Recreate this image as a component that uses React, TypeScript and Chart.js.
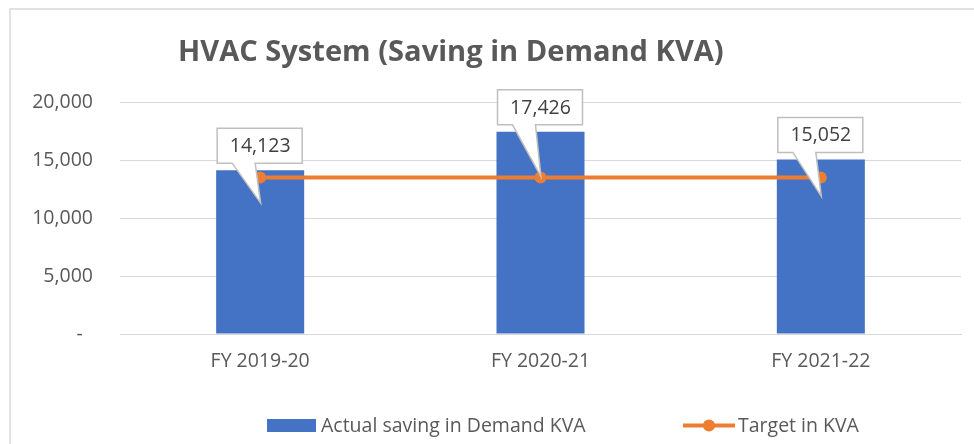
import React, { useEffect, useRef } from "react";
import { Chart, registerables } from "chart.js";

Chart.register(...registerables);

const TITLE = "HVAC System (Saving in Demand KVA)";
const categories = ["FY 2019-20", "FY 2020-21", "FY 2021-22"];
const actualSaving = [14123, 17426, 15052];
const targetKVA = [13500, 13500, 13500];
const seriesNames = ["Actual saving in Demand KVA", "Target in KVA"];
const yMin = 0;
const yMax = 20000;
const yStep = 5000;

const FONT = '"Open Sans", "Noto Sans", sans-serif';
const TEXT = "#595959";
const BLUE = "#4472C4";
const ORANGE = "#ED7D31";
const GRID = "#d9d9d9";

const framePlugin = {
  id: "frame",
  beforeDraw(chart: any) {
    const ctx = chart.ctx;
    ctx.save();
    ctx.fillStyle = "#ffffff";
    ctx.fillRect(0, 0, chart.width, chart.height);
    ctx.strokeStyle = GRID;
    ctx.lineWidth = 1.5;
    ctx.beginPath();
    ctx.moveTo(10, chart.height);
    ctx.lineTo(10, 9);
    ctx.lineTo(chart.width, 9);
    ctx.stroke();
    ctx.restore();
  },
};

const titlePlugin = {
  id: "customTitle",
  afterDraw(chart: any) {
    const ctx = chart.ctx;
    ctx.save();
    let size = 31;
    ctx.font = `bold ${size}px ${FONT}`;
    const w = ctx.measureText(TITLE).width;
    const target = 546;
    size = Math.min(34, size * (target / w));
    ctx.font = `bold ${size}px ${FONT}`;
    ctx.fillStyle = TEXT;
    ctx.textAlign = "left";
    ctx.textBaseline = "alphabetic";
    ctx.fillText(TITLE, 178, 61);
    ctx.restore();
  },
};

const legendPlugin = {
  id: "customLegend",
  afterDraw(chart: any) {
    const ctx = chart.ctx;
    ctx.save();
    ctx.font = `19.5px ${FONT}`;
    ctx.fillStyle = TEXT;
    ctx.textBaseline = "alphabetic";
    ctx.textAlign = "left";
    // bar item
    ctx.fillStyle = BLUE;
    ctx.fillRect(267, 419, 49, 13);
    ctx.fillStyle = TEXT;
    ctx.fillText(seriesNames[0], 321, 432);
    // line item
    ctx.strokeStyle = ORANGE;
    ctx.lineWidth = 4;
    ctx.beginPath();
    ctx.moveTo(683, 425.5);
    ctx.lineTo(735, 425.5);
    ctx.stroke();
    ctx.fillStyle = ORANGE;
    ctx.beginPath();
    ctx.arc(709, 425.5, 6, 0, Math.PI * 2);
    ctx.fill();
    ctx.fillStyle = TEXT;
    ctx.fillText(seriesNames[1], 738, 432);
    ctx.restore();
  },
};

const calloutPlugin = {
  id: "callouts",
  afterDatasetsDraw(chart: any, _args: any, opts: any) {
    const ctx = chart.ctx;
    const meta = chart.getDatasetMeta(0);
    const data = chart.data.datasets[0].data as number[];
    const tips: number[] = opts.tipOffsets || [];
    ctx.save();
    meta.data.forEach((el: any, i: number) => {
      const x = el.x;
      const top = el.y;
      const bw = 85;
      const bh = 35;
      const bottom = top - 7;
      const boxTop = bottom - bh;
      const left = x - 43;
      const right = left + bw;
      const tipY = top + (tips[i] ?? 38);
      ctx.beginPath();
      ctx.moveTo(left, boxTop);
      ctx.lineTo(right, boxTop);
      ctx.lineTo(right, bottom);
      ctx.lineTo(x - 5, bottom);
      ctx.lineTo(x + 0.5, tipY);
      ctx.lineTo(x - 28, bottom);
      ctx.lineTo(left, bottom);
      ctx.closePath();
      ctx.fillStyle = "#ffffff";
      ctx.fill();
      ctx.strokeStyle = "#bfbfbf";
      ctx.lineWidth = 1.5;
      ctx.stroke();
      ctx.fillStyle = "#404040";
      ctx.font = `19.5px ${FONT}`;
      ctx.textAlign = "center";
      ctx.textBaseline = "middle";
      ctx.fillText(data[i].toLocaleString("en-US"), x, boxTop + bh / 2 + 1);
    });
    ctx.restore();
  },
};

export default function App() {
  const ref = useRef<HTMLCanvasElement | null>(null);

  useEffect(() => {
    if (!ref.current) return;
    const chart = new Chart(ref.current, {
      type: "bar",
      data: {
        labels: categories,
        datasets: [
          {
            type: "bar",
            label: seriesNames[0],
            data: actualSaving,
            backgroundColor: BLUE,
            barPercentage: 0.314,
            categoryPercentage: 1,
            order: 2,
          },
          {
            type: "line",
            label: seriesNames[1],
            data: targetKVA,
            borderColor: ORANGE,
            backgroundColor: ORANGE,
            borderWidth: 4,
            pointRadius: 6,
            pointBorderWidth: 0,
            pointBackgroundColor: ORANGE,
            order: 1,
          } as any,
        ],
      },
      options: {
        animation: false,
        responsive: false,
        maintainAspectRatio: false,
        layout: { padding: { top: 102, right: 13, left: 0, bottom: 0 } },
        plugins: {
          legend: { display: false },
          title: { display: false },
          tooltip: { enabled: false },
          callouts: { tipOffsets: [33, 45, 37] },
        } as any,
        scales: {
          x: {
            grid: { display: false, drawTicks: false },
            border: { display: true, color: GRID, width: 1 },
            ticks: {
              color: TEXT,
              font: { family: FONT, size: 19.5 },
              padding: 16,
              maxRotation: 0,
            },
            afterFit(scale: any) {
              scale.height = 110;
            },
          },
          y: {
            min: yMin,
            max: yMax,
            grid: { color: GRID, drawTicks: false, lineWidth: 1 },
            border: { display: false },
            ticks: {
              stepSize: yStep,
              color: TEXT,
              font: { family: FONT, size: 19.5 },
              padding: 27,
              callback: (v: any) => (Number(v) === 0 ? "-  " : Number(v).toLocaleString("en-US")),
            },
            afterFit(scale: any) {
              scale.width = 120;
            },
          },
        },
      },
      plugins: [framePlugin, calloutPlugin, titlePlugin, legendPlugin],
    });
    return () => chart.destroy();
  }, []);

  return (
    <div style={{ position: "fixed", left: 0, top: 0, width: 974, height: 444, background: "#fff" }}>
      <canvas ref={ref} width={974} height={444} style={{ width: 974, height: 444, display: "block" }} />
    </div>
  );
}
